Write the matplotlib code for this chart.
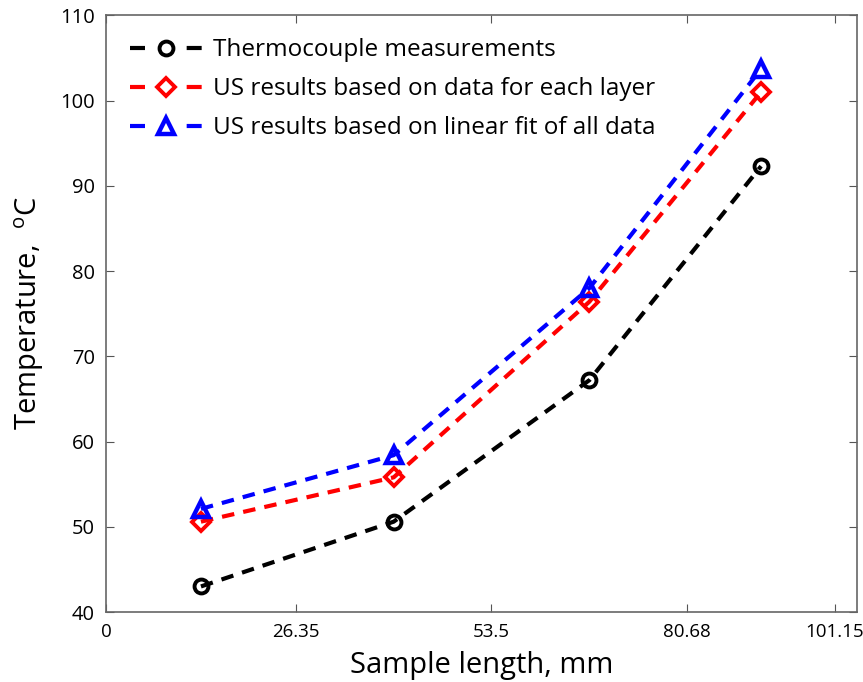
import matplotlib
matplotlib.use("Agg")
import matplotlib.pyplot as plt
from matplotlib.lines import Line2D

# Data
x_mm = [13.18, 39.93, 67.09, 90.92]
thermocouple = [43.0, 50.6, 67.2, 92.3]
us_layer = [50.6, 55.8, 76.4, 101.0]
us_linear = [52.1, 58.4, 78.0, 103.7]
series_names = ['Thermocouple measurements',
                'US results based on data for each layer',
                'US results based on linear fit of all data']
xtick_vals = [0, 26.35, 53.5, 80.68, 101.15]
xtick_labels = ["0", "26.35", "53.5", "80.68", "101.15"]
yticks = [40, 50, 60, 70, 80, 90, 100, 110]

plt.rcParams['font.family'] = ['Open Sans', 'DejaVu Sans']
plt.rcParams['mathtext.fontset'] = 'custom'
plt.rcParams['mathtext.rm'] = 'Open Sans'

fig = plt.figure(figsize=(8.63, 6.82), dpi=100)
ax = fig.add_axes([0.1228, 0.1026, 0.870, 0.875])

lw = 3.0
styles = [
    dict(color='black', marker='o', ms=10, mfc='none', mew=2.8),
    dict(color='red', marker='D', ms=9, mfc='none', mew=2.8),
    dict(color='blue', marker='^', ms=11, mfc='none', mew=3.2),
]
for ys, st, name in zip([thermocouple, us_layer, us_linear], styles, series_names):
    ax.plot(x_mm, ys, ls=(0, (3, 2.2)), lw=lw, label=name, **st)

ax.set_xlim(0, 104.2)
ax.set_ylim(40, 110)
ax.set_xticks(xtick_vals)
ax.set_xticklabels(xtick_labels)
ax.set_yticks(yticks)
ax.tick_params(direction='in', top=True, right=True, labelsize=14.5, length=6,
               color='#555555', pad=8)
ax.tick_params(axis='x', labelsize=13.5)
for s in ax.spines.values():
    s.set_color('#666666')
    s.set_linewidth(1.2)

ax.set_xlabel('Sample length, mm', fontsize=21, labelpad=7)
ax.set_ylabel('Temperature,  $^{\\mathrm{o}}$C', fontsize=21, labelpad=10)

# legend proxies: dash - marker - dash
handles = [Line2D([], [], ls=(0, (3.6, 10.0)), lw=lw, **st) for st in styles]
leg = ax.legend(handles, series_names, loc='upper left',
                bbox_to_anchor=(0.01, 0.99), frameon=False,
                fontsize=17.5, handlelength=2.95, handletextpad=0.45,
                labelspacing=0.62, borderaxespad=0.3)

fig.savefig('out.png', dpi=100)
